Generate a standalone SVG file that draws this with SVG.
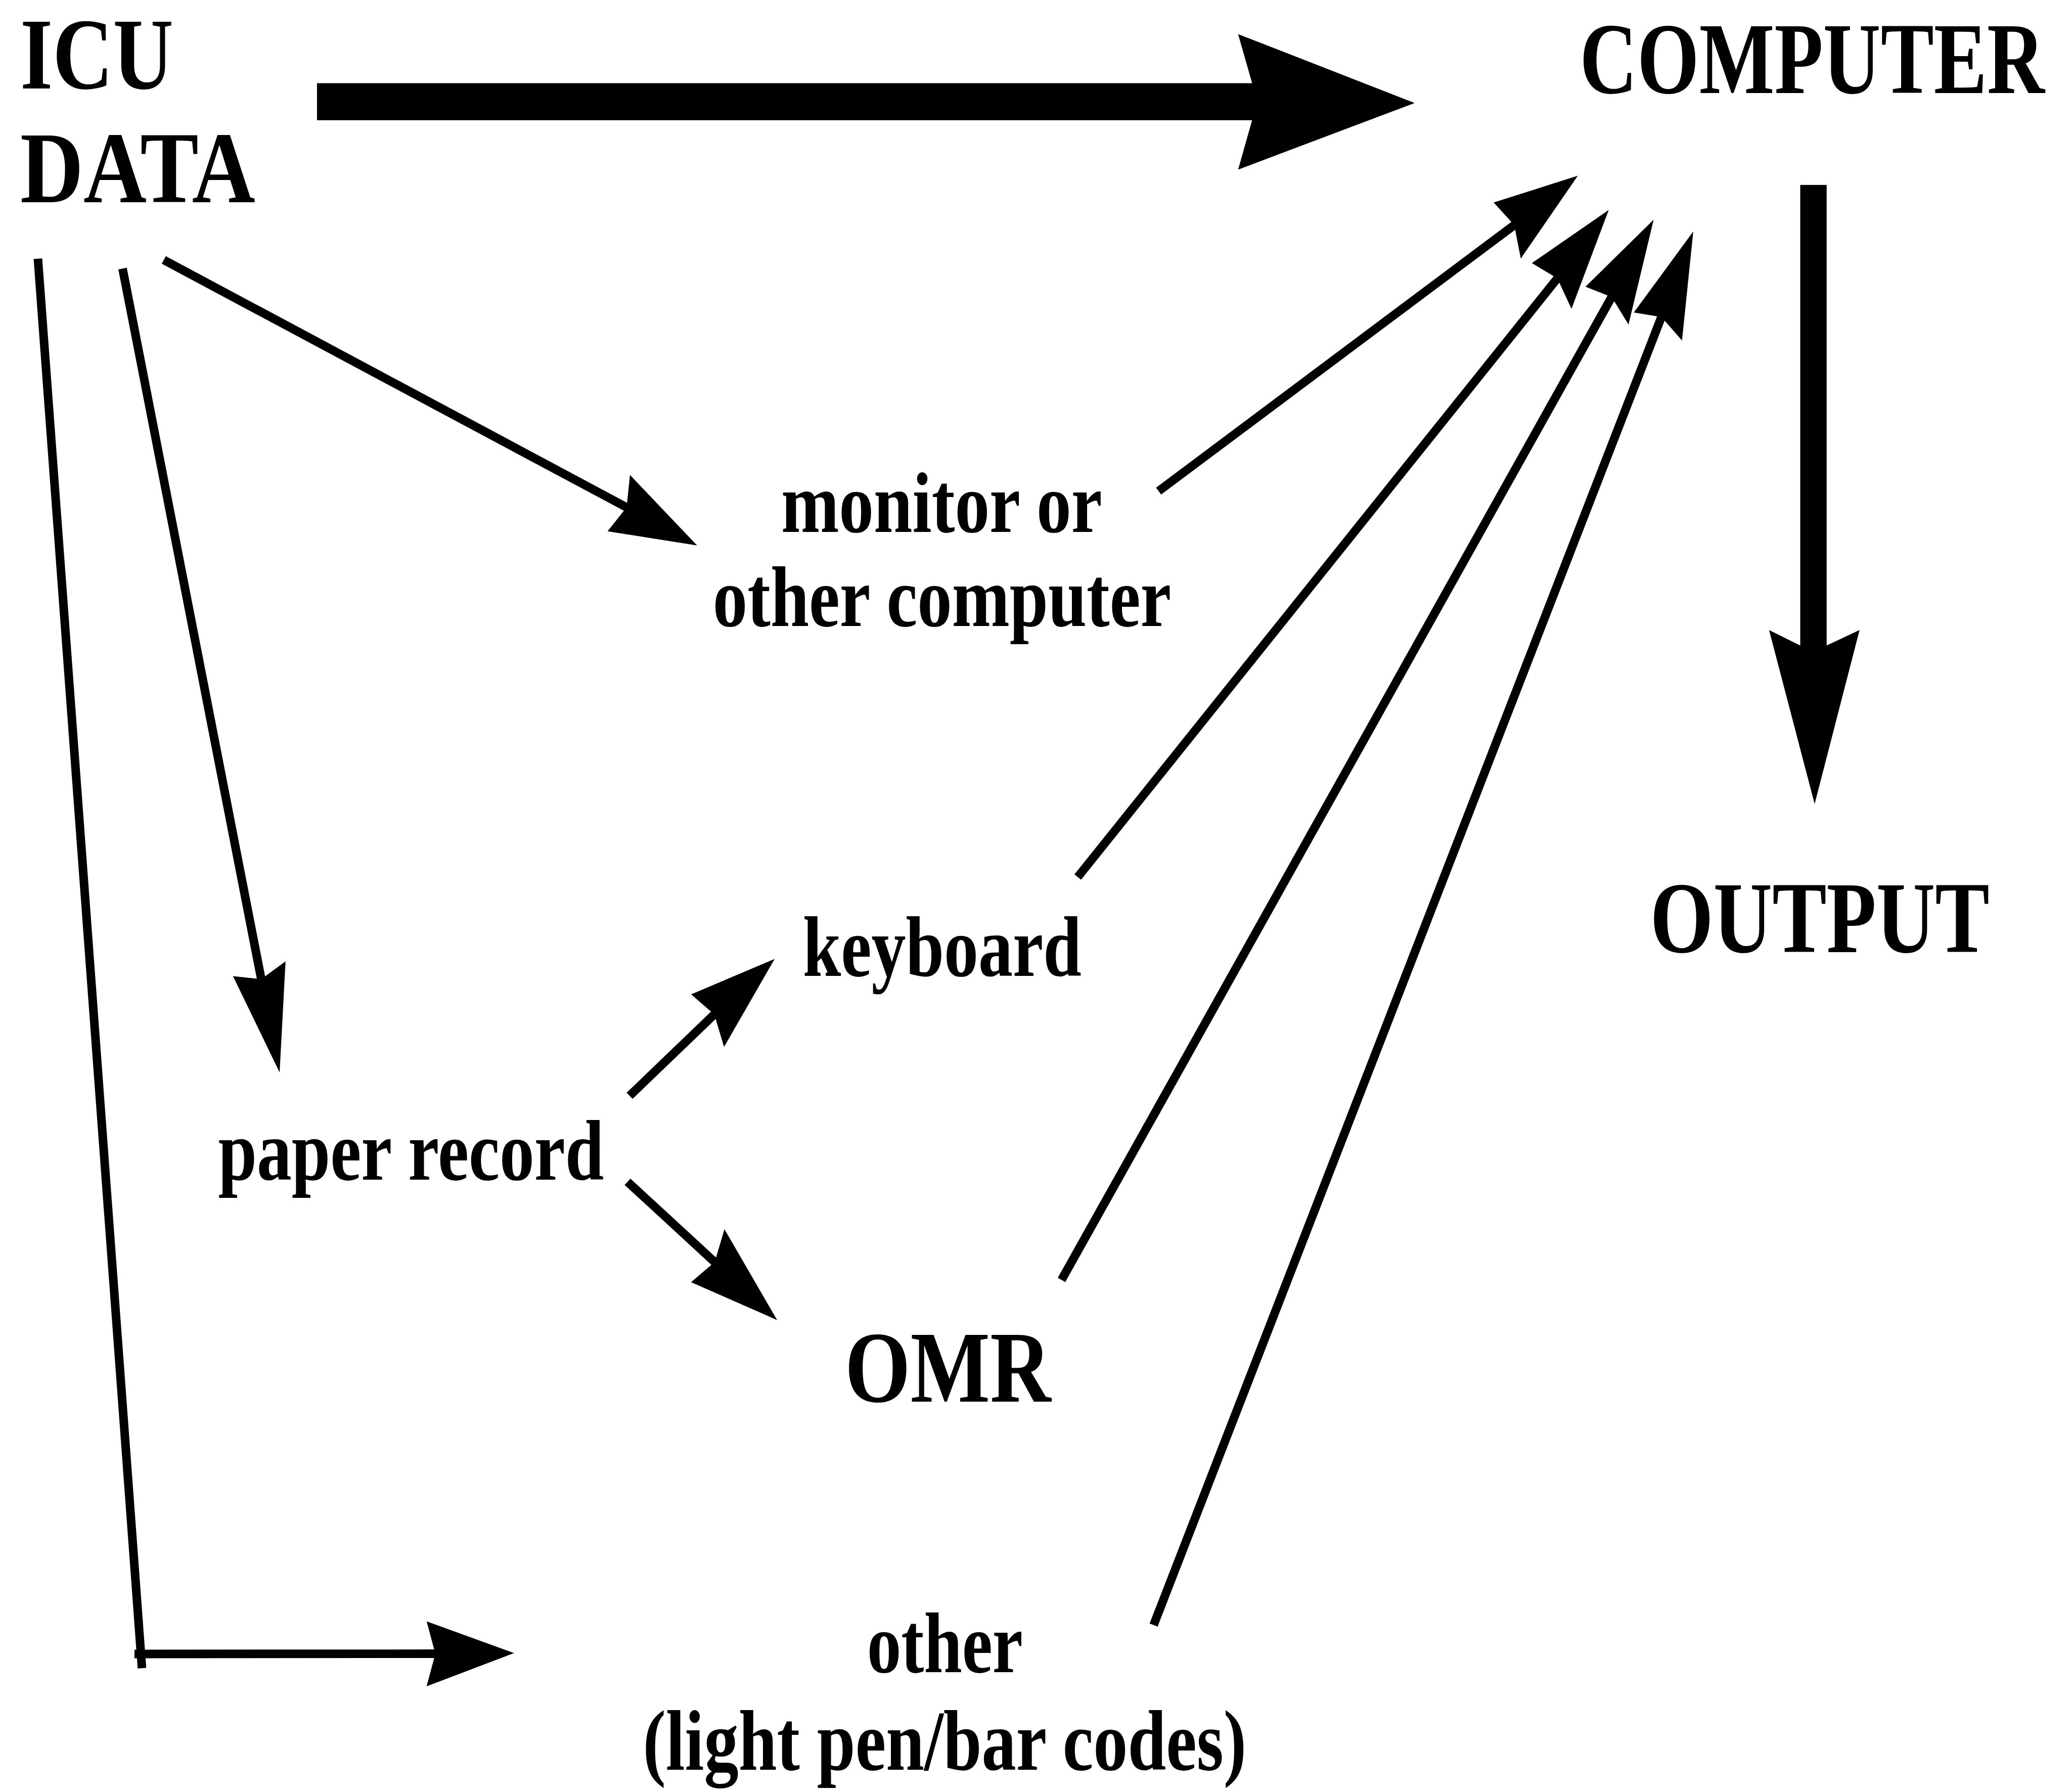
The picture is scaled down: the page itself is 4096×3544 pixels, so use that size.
<svg xmlns="http://www.w3.org/2000/svg" width="4096" height="3544" viewBox="0 0 4096 3544">
<style>
.cap{font-family:"Liberation Serif","Times New Roman",serif;font-weight:bold;font-size:77px;fill:#000}
.low{font-family:"Liberation Serif","Times New Roman",serif;font-weight:bold;font-size:65px;fill:#000}
.ln{stroke:#000;stroke-width:6.5;fill:none;stroke-linecap:butt}
.hd{fill:#000;stroke:none}
</style>
<rect width="4096" height="3544" fill="#fff"/>
<g transform="scale(2.612245)">
<g id="icu-data">
<text class="cap" x="15.3" y="67" textLength="116" lengthAdjust="spacingAndGlyphs">ICU</text>
<text class="cap" x="15.3" y="153" textLength="178" lengthAdjust="spacingAndGlyphs">DATA</text>
</g>
<g id="computer">
<text class="cap" transform="translate(1196,70.5) scale(0.784,1)" x="0" y="0" textLength="449" lengthAdjust="spacingAndGlyphs">COMPUTER</text>
</g>
<g id="output">
<text class="cap" x="1249.3" y="721" font-size="73" textLength="257" lengthAdjust="spacingAndGlyphs">OUTPUT</text>
</g>
<g id="monitor">
<text class="low" x="591.4" y="402.7" textLength="243" lengthAdjust="spacingAndGlyphs">monitor or</text>
<text class="low" x="539.7" y="474" textLength="347" lengthAdjust="spacingAndGlyphs">other computer</text>
</g>
<g id="keyboard">
<text class="low" x="607.8" y="739" textLength="211" lengthAdjust="spacingAndGlyphs">keyboard</text>
</g>
<g id="paper-record">
<text class="low" x="165.2" y="893" textLength="292" lengthAdjust="spacingAndGlyphs">paper record</text>
</g>
<g id="omr">
<text class="cap" x="639.7" y="1061" font-size="76" textLength="156" lengthAdjust="spacingAndGlyphs">OMR</text>
</g>
<g id="other">
<text class="low" x="656.4" y="1266" textLength="118" lengthAdjust="spacingAndGlyphs">other</text>
<text class="low" x="486.7" y="1340" textLength="457" lengthAdjust="spacingAndGlyphs">(light pen/bar codes)</text>
</g>
<g id="connectors">
<!-- ICU DATA -> COMPUTER (thick) -->
<polygon class="hd" points="240,63 948,63 937.4,25.8 1071,78 937.4,128.4 948,91 240,91"/>
<!-- COMPUTER -> OUTPUT (thick) -->
<polygon class="hd" points="1363,140 1383,140 1383,488.7 1407.9,477 1373.9,608.7 1339.4,477 1363,488.7"/>
<!-- ICU -> monitor -->
<line class="ln" x1="124" y1="196.8" x2="474.4" y2="384.1"/>
<polygon class="hd" points="527.8,413 460,402.2 474.4,384.1 477,359.6"/>
<!-- ICU -> paper record -->
<line class="ln" x1="92.8" y1="203.3" x2="197.8" y2="741.3"/>
<polygon class="hd" points="211.7,811.9 176.4,739 197.8,741.3 216.2,727.8"/>
<!-- ICU -> other (elbow) -->
<line class="ln" x1="28.7" y1="195.9" x2="107.5" y2="1262.9"/>
<line class="ln" x1="101.8" y1="1252.2" x2="329.6" y2="1252"/>
<polygon class="hd" points="389.2,1251.5 323,1227.5 329.6,1252 323,1276.7"/>
<!-- paper record -> keyboard -->
<line class="ln" x1="476.7" y1="829.6" x2="540.8" y2="768"/>
<polygon class="hd" points="586.5,726 523.3,752.8 540.8,768 548.2,792.6"/>
<!-- paper record -> OMR -->
<line class="ln" x1="475.1" y1="894.7" x2="541.1" y2="955.5"/>
<polygon class="hd" points="588.4,999.4 523.2,970.7 541.1,955.5 548.5,930.6"/>
<!-- monitor -> COMPUTER -->
<line class="ln" x1="877.2" y1="371.8" x2="1146.5" y2="170.4"/>
<polygon class="hd" points="1194.6,133 1130.9,153.3 1146.5,170.4 1151.4,195.8"/>
<!-- keyboard -> COMPUTER -->
<line class="ln" x1="816" y1="664" x2="1179.1" y2="210.75"/>
<polygon class="hd" points="1218,159 1159.8,199.2 1179.1,210.75 1189.8,233.8"/>
<!-- OMR -> COMPUTER -->
<line class="ln" x1="803.7" y1="969" x2="1220.2" y2="224.9"/>
<polygon class="hd" points="1252,166.3 1200.4,217.1 1220.2,224.9 1233,245.7"/>
<!-- other -> COMPUTER -->
<line class="ln" x1="873.4" y1="1230.3" x2="1257.9" y2="240"/>
<polygon class="hd" points="1282,175.2 1237,236.6 1257.9,240 1273.5,257.8"/>
</g>
</g>
</svg>
